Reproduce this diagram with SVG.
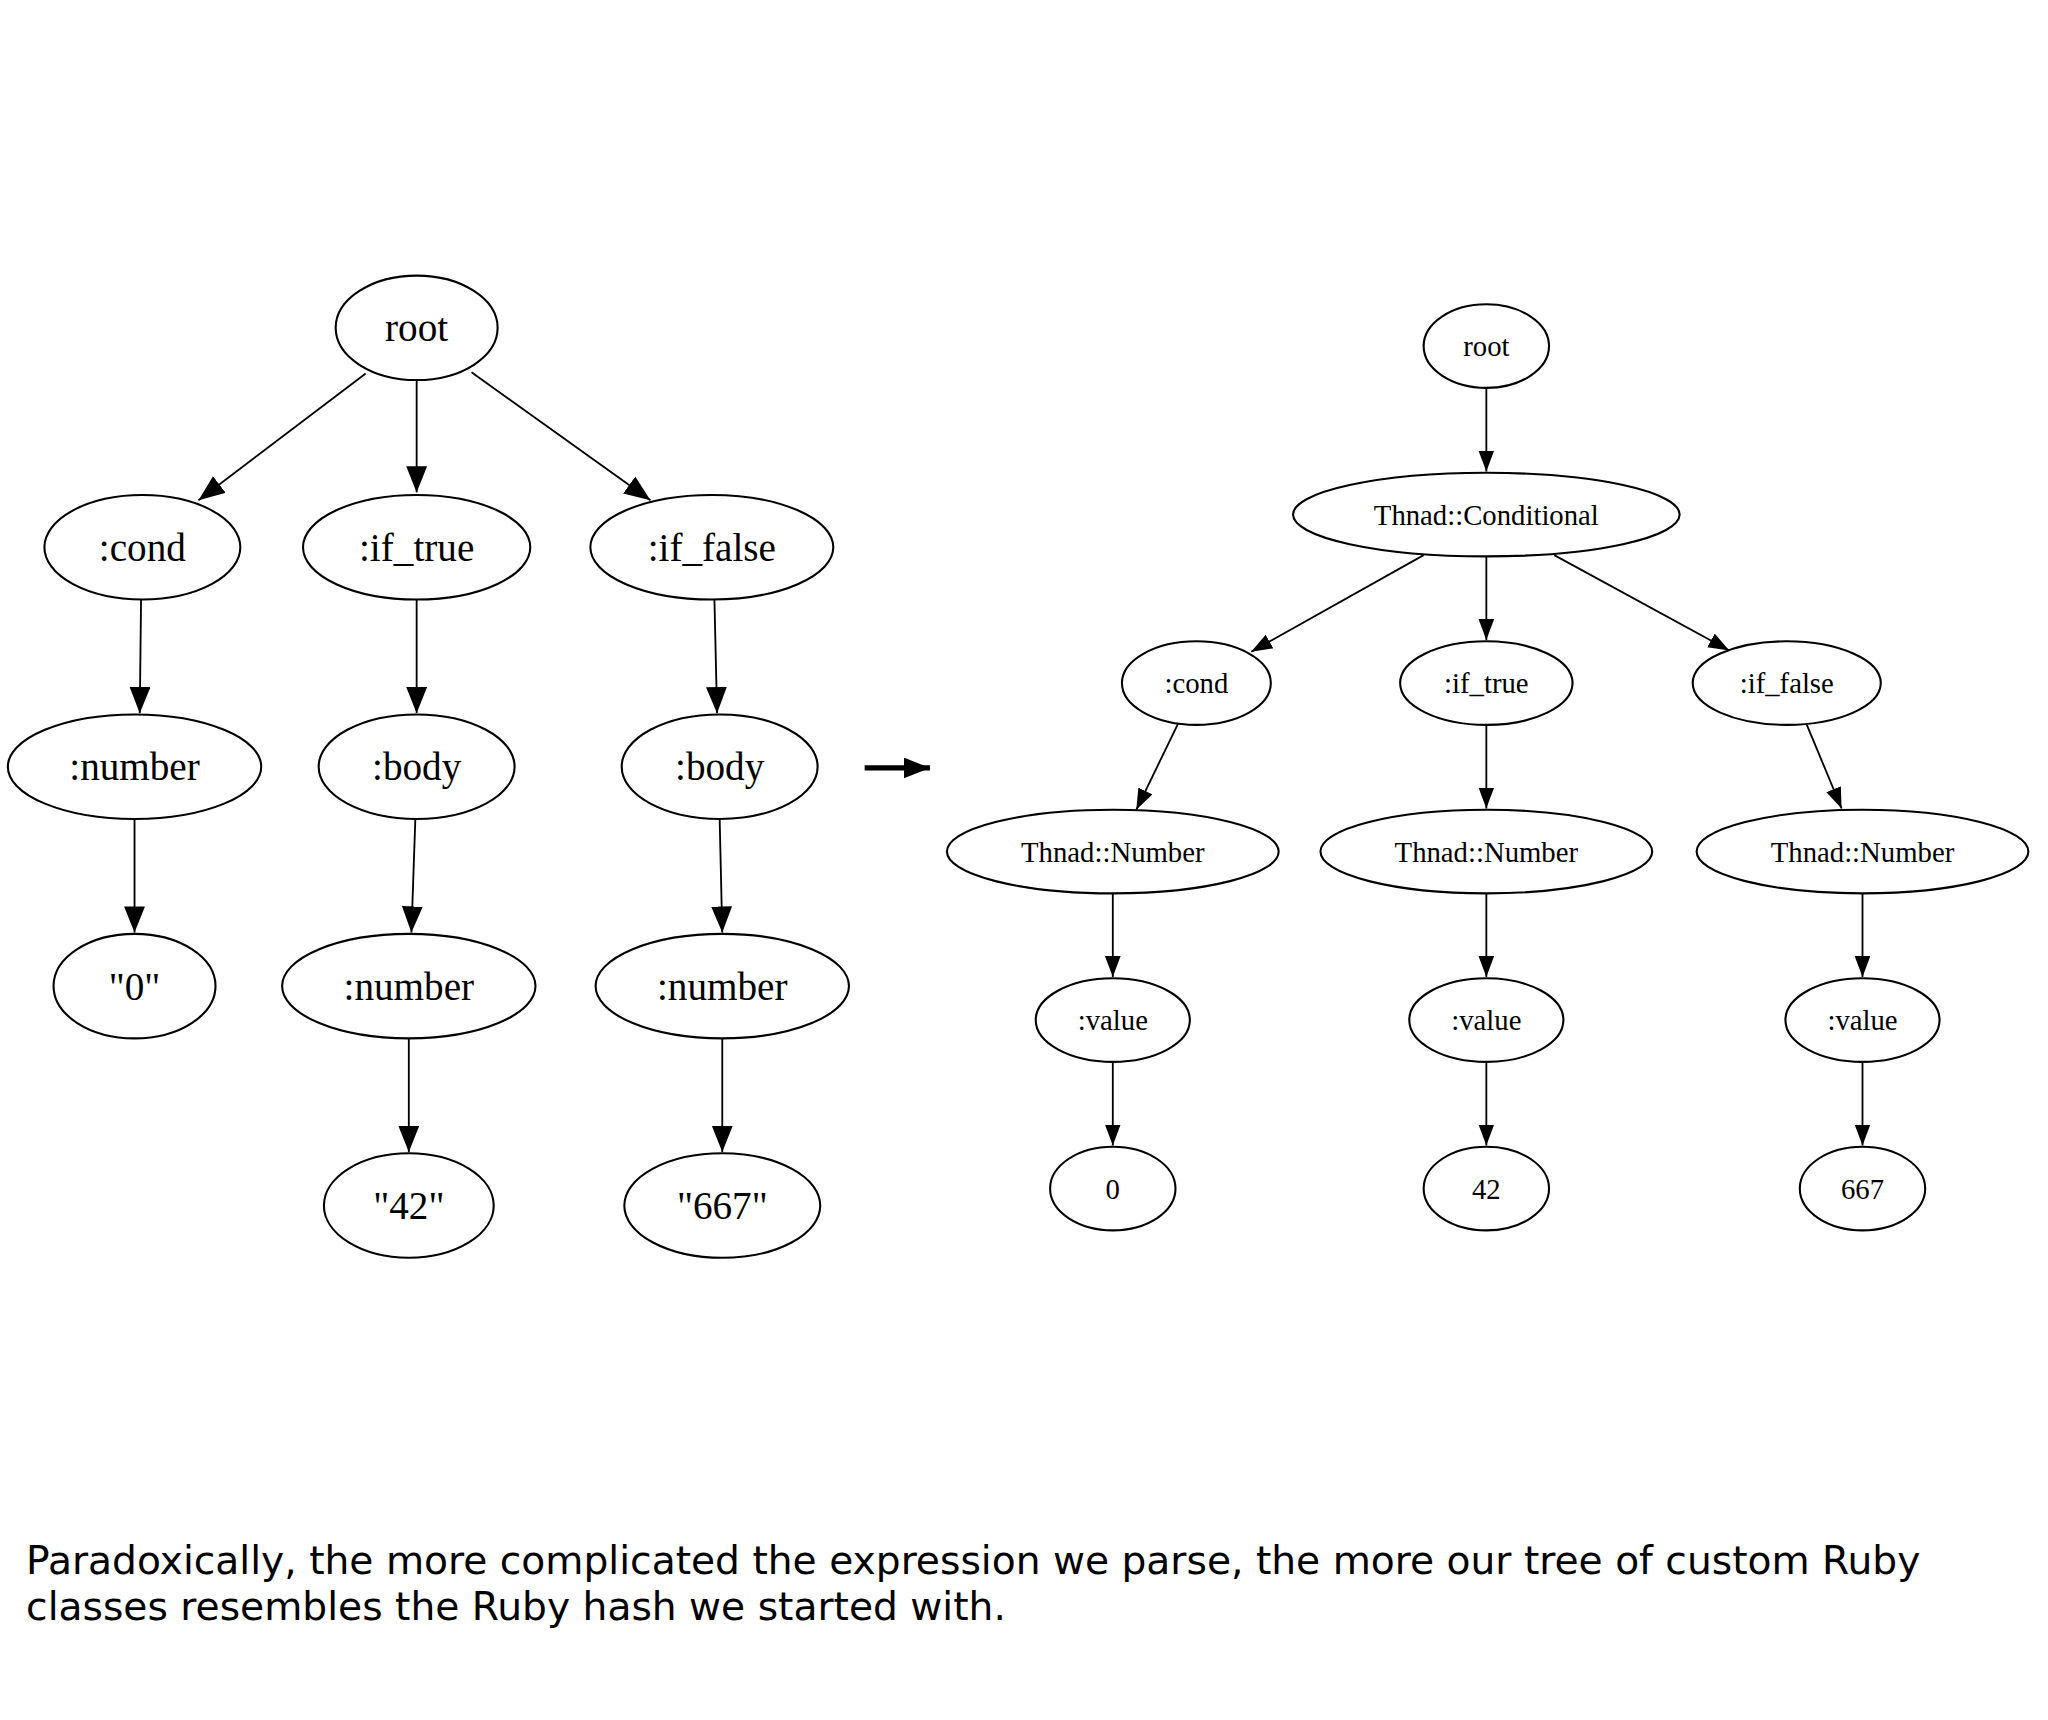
<svg xmlns="http://www.w3.org/2000/svg" width="2048" height="1720" viewBox="0 0 2048 1720">
<style>
.n{fill:none;stroke:#000;stroke-width:1.6}
.e{stroke:#000;stroke-width:1.4;fill:none}
.l{font-family:"Liberation Serif",serif;font-size:30px;text-anchor:middle;dominant-baseline:central}
.r{font-family:"Liberation Serif",serif;font-size:22px;text-anchor:middle;dominant-baseline:central}
.cap{font-family:"DejaVu Sans",sans-serif;font-size:30px}
</style>
<defs>
<marker id="a" markerUnits="userSpaceOnUse" markerWidth="24" markerHeight="24" refX="20" refY="8" orient="auto"><path d="M0,0 L20,8 L0,16 Z" fill="#000"/></marker>
<marker id="b" markerUnits="userSpaceOnUse" markerWidth="20" markerHeight="20" refX="16" refY="6" orient="auto"><path d="M0,0 L16,6 L0,12 Z" fill="#000"/></marker>
</defs>
<rect width="2048" height="1720" fill="#fff"/>
<g transform="scale(1.3061)">
<g id="connectors">
<g marker-end="url(#a)" class="e">
<line x1="280" y1="286" x2="152" y2="383"/>
<line x1="319" y1="291" x2="319" y2="377"/>
<line x1="361" y1="285" x2="498" y2="383"/>
<line x1="108" y1="459" x2="107" y2="546"/>
<line x1="319" y1="459" x2="319" y2="546"/>
<line x1="547" y1="459" x2="549" y2="546"/>
<line x1="103" y1="627" x2="103" y2="714"/>
<line x1="318" y1="627" x2="315" y2="714"/>
<line x1="551" y1="627" x2="553" y2="714"/>
<line x1="313" y1="795" x2="313" y2="882"/>
<line x1="553" y1="795" x2="553" y2="882"/>
</g>
<line x1="662" y1="588" x2="712" y2="588" stroke="#000" stroke-width="4" marker-end="url(#a)"/>
<g marker-end="url(#b)" class="e">
<line x1="1138" y1="297" x2="1138" y2="361"/>
<line x1="1090" y1="425" x2="958" y2="499"/>
<line x1="1138" y1="426" x2="1138" y2="490"/>
<line x1="1190" y1="425" x2="1324" y2="498"/>
<line x1="902" y1="554" x2="870" y2="620"/>
<line x1="1138" y1="555" x2="1138" y2="619"/>
<line x1="1383" y1="554" x2="1410" y2="619"/>
<line x1="852" y1="684" x2="852" y2="748"/>
<line x1="1138" y1="684" x2="1138" y2="748"/>
<line x1="1426" y1="684" x2="1426" y2="748"/>
<line x1="852" y1="813" x2="852" y2="877"/>
<line x1="1138" y1="813" x2="1138" y2="877"/>
<line x1="1426" y1="813" x2="1426" y2="877"/>
</g>
</g>
<g id="l_root"><ellipse class="n" cx="319" cy="251" rx="62" ry="40"/><text class="l" x="319" y="251">root</text></g>
<g id="l_cond"><ellipse class="n" cx="109" cy="419" rx="75" ry="40"/><text class="l" x="109" y="419">:cond</text></g>
<g id="l_iftrue"><ellipse class="n" cx="319" cy="419" rx="87" ry="40"/><text class="l" x="319" y="419">:if_true</text></g>
<g id="l_iffalse"><ellipse class="n" cx="545" cy="419" rx="93" ry="40"/><text class="l" x="545" y="419">:if_false</text></g>
<g id="l_number1"><ellipse class="n" cx="103" cy="587" rx="97" ry="40"/><text class="l" x="103" y="587">:number</text></g>
<g id="l_body1"><ellipse class="n" cx="319" cy="587" rx="75" ry="40"/><text class="l" x="319" y="587">:body</text></g>
<g id="l_body2"><ellipse class="n" cx="551" cy="587" rx="75" ry="40"/><text class="l" x="551" y="587">:body</text></g>
<g id="l_0"><ellipse class="n" cx="103" cy="755" rx="62" ry="40"/><text class="l" x="103" y="755">"0"</text></g>
<g id="l_number2"><ellipse class="n" cx="313" cy="755" rx="97" ry="40"/><text class="l" x="313" y="755">:number</text></g>
<g id="l_number3"><ellipse class="n" cx="553" cy="755" rx="97" ry="40"/><text class="l" x="553" y="755">:number</text></g>
<g id="l_42"><ellipse class="n" cx="313" cy="923" rx="65" ry="40"/><text class="l" x="313" y="923">"42"</text></g>
<g id="l_667"><ellipse class="n" cx="553" cy="923" rx="75" ry="40"/><text class="l" x="553" y="923">"667"</text></g>

<g id="r_root"><ellipse class="n" cx="1138" cy="265" rx="48" ry="32"/><text class="r" x="1138" y="265">root</text></g>
<g id="r_cond_cls"><ellipse class="n" cx="1138" cy="394" rx="148" ry="32"/><text class="r" x="1138" y="394">Thnad::Conditional</text></g>
<g id="r_cond"><ellipse class="n" cx="916" cy="523" rx="57" ry="32"/><text class="r" x="916" y="523">:cond</text></g>
<g id="r_iftrue"><ellipse class="n" cx="1138" cy="523" rx="66" ry="32"/><text class="r" x="1138" y="523">:if_true</text></g>
<g id="r_iffalse"><ellipse class="n" cx="1368" cy="523" rx="72" ry="32"/><text class="r" x="1368" y="523">:if_false</text></g>
<g id="r_num1"><ellipse class="n" cx="852" cy="652" rx="127" ry="32"/><text class="r" x="852" y="652">Thnad::Number</text></g>
<g id="r_num2"><ellipse class="n" cx="1138" cy="652" rx="127" ry="32"/><text class="r" x="1138" y="652">Thnad::Number</text></g>
<g id="r_num3"><ellipse class="n" cx="1426" cy="652" rx="127" ry="32"/><text class="r" x="1426" y="652">Thnad::Number</text></g>
<g id="r_val1"><ellipse class="n" cx="852" cy="781" rx="59" ry="32"/><text class="r" x="852" y="781">:value</text></g>
<g id="r_val2"><ellipse class="n" cx="1138" cy="781" rx="59" ry="32"/><text class="r" x="1138" y="781">:value</text></g>
<g id="r_val3"><ellipse class="n" cx="1426" cy="781" rx="59" ry="32"/><text class="r" x="1426" y="781">:value</text></g>
<g id="r_0"><ellipse class="n" cx="852" cy="910" rx="48" ry="32"/><text class="r" x="852" y="910">0</text></g>
<g id="r_42"><ellipse class="n" cx="1138" cy="910" rx="48" ry="32"/><text class="r" x="1138" y="910">42</text></g>
<g id="r_667"><ellipse class="n" cx="1426" cy="910" rx="48" ry="32"/><text class="r" x="1426" y="910">667</text></g>

<text class="cap" x="20" y="1205">Paradoxically, the more complicated the expression we parse, the more our tree of custom Ruby</text>
<text class="cap" x="20" y="1240">classes resembles the Ruby hash we started with.</text>
</g>
</svg>
